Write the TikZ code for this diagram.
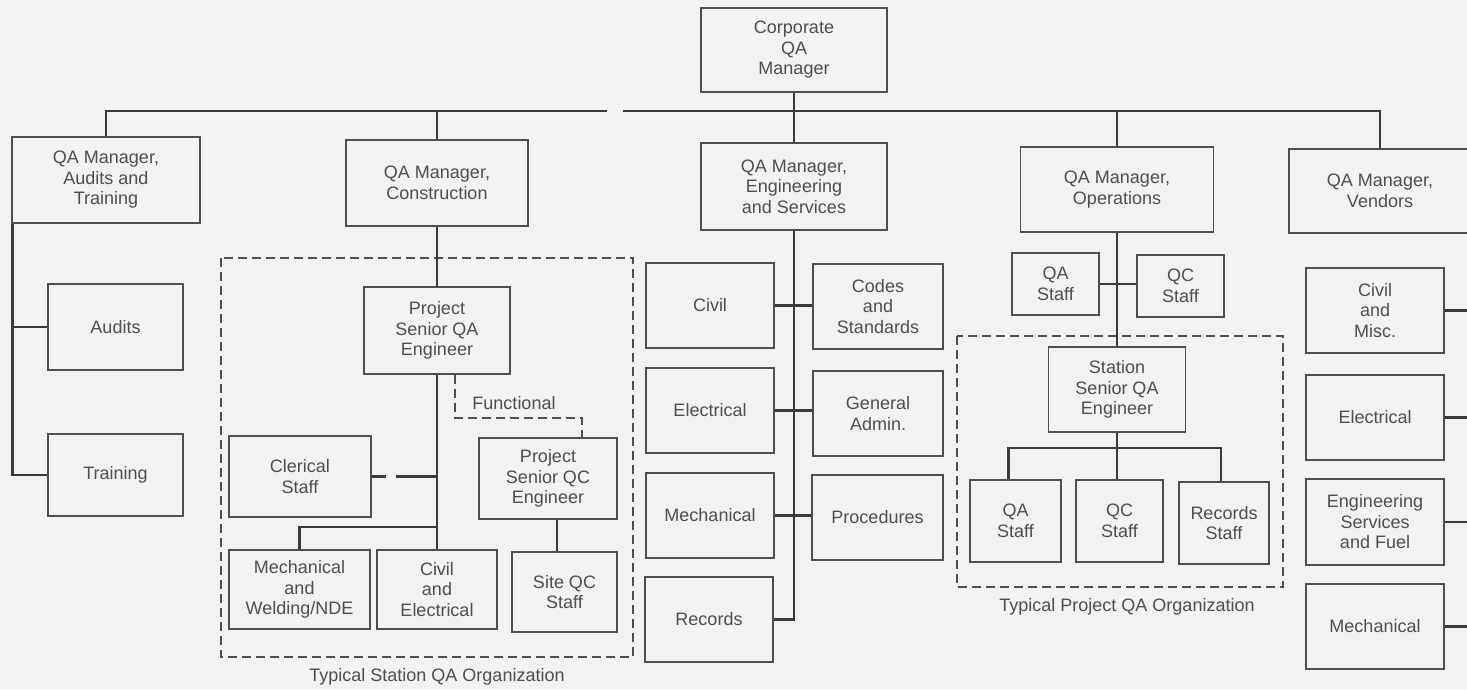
\documentclass[tikz,border=0pt]{standalone}
\usepackage{fontspec}
\setmainfont{Liberation Sans}
\definecolor{paper}{HTML}{F2F2F0}
\definecolor{ink}{HTML}{4E4E4E}
\definecolor{rule}{HTML}{3A3A3A}
\begin{document}
\begin{tikzpicture}[x=1pt,y=-1pt]
	\tikzstyle{Box} = [rectangle, draw=ink, line width=1.4pt, text=ink, align=center, inner sep=2pt, font=\fontsize{18}{20.5}\selectfont]
	\tikzstyle{Link} = [draw=rule, line width=2.6pt]
	\tikzstyle{Group} = [draw=ink, line width=1.3pt, dash pattern=on 9pt off 5pt]
	\tikzstyle{Caption} = [text=ink, font=\fontsize{18}{20.5}\selectfont]
	\useasboundingbox (0,0) rectangle (1467,689);
	\fill[paper] (0,0) rectangle (1467,689);
	\clip (0,0) rectangle (1467,689);

	% managers
	\node (corp) at (794,50) [Box, minimum width=186, minimum height=84] {Corporate\\QA\\Manager};
	\node (mAT) at (106,180) [Box, minimum width=188, minimum height=86] {QA Manager,\\Audits and\\Training};
	\node (mCon) at (437,183) [Box, minimum width=182, minimum height=86] {QA Manager,\\Construction};
	\node (mEng) at (794,186.5) [Box, minimum width=186, minimum height=87] {QA Manager,\\Engineering\\and Services};
	\node (mOps) at (1117,189.5) [Box, minimum width=193, minimum height=85] {QA Manager,\\Operations};
	\node (mVen) at (1380,191) [Box, minimum width=182, minimum height=84] {QA Manager,\\Vendors};
	\coordinate (gapL) at (607,111);
	\coordinate (gapR) at (623,111);
	\draw[Link] (mAT.north) |- (gapL);
	\draw[Link] (gapR) -| (mVen.north);
	\draw[Link] (mCon.north) -- (mCon.north |- gapL);
	\draw[Link] (mOps.north) -- (mOps.north |- gapR);
	\draw[Link] (corp) -- (mEng);

	% audits and training
	\node (audit) at (115.5,327) [Box, minimum width=135, minimum height=86] {Audits};
	\node (train) at (115.5,475) [Box, minimum width=135, minimum height=82] {Training};
	\draw[Link] ([xshift=1pt]mAT.south west) |- (audit.west);
	\draw[Link] ([xshift=1pt]mAT.south west) |- (train.west);

	% construction
	\draw[Group] (221,258) rectangle (633,657);
	\node (staCap) at (437,677) [Caption] {Typical Station QA Organization};
	\node (psqa) at (437,330.5) [Box, minimum width=146, minimum height=87] {Project\\Senior QA\\Engineer};
	\node (cler) at (300,476.5) [Box, minimum width=142, minimum height=81] {Clerical\\Staff};
	\node (psqc) at (548,478.5) [Box, minimum width=138, minimum height=81] {Project\\Senior QC\\Engineer};
	\node (mechW) at (299.5,589.5) [Box, minimum width=141, minimum height=79] {Mechanical\\and\\Welding/NDE};
	\node (civEl) at (437,589.5) [Box, minimum width=120, minimum height=79] {Civil\\and\\Electrical};
	\node (siteQC) at (564.5,592) [Box, minimum width=105, minimum height=80] {Site QC\\Staff};
	\node (fnLab) at (514,403) [Caption] {Functional};
	\coordinate (staB) at (437,527);
	\coordinate (fnc) at (582,418);
	\draw[Link] (mCon) -- (psqa);
	\draw[Link] (psqa) -- (civEl);
	\draw[Link] (mechW.north) |- (staB);
	\draw[Link, dash pattern=on 14pt off 10pt on 60pt off 0pt] (cler.east) -- (cler.east -| psqa.south);
	\draw[Link] ([xshift=9pt]psqc.south) -- ([xshift=9pt]psqc.south |- siteQC.north);
	\draw[Group] ([xshift=18pt]psqa.south) |- (fnc) -- (fnc |- psqc.north);

	% engineering and services
	\node (civ) at (710,305.5) [Box, minimum width=128, minimum height=85] {Civil};
	\node (codes) at (878,306.5) [Box, minimum width=130, minimum height=85] {Codes\\and\\Standards};
	\node (elec) at (710,410.5) [Box, minimum width=128, minimum height=85] {Electrical};
	\node (admin) at (878,413.5) [Box, minimum width=130, minimum height=85] {General\\Admin.};
	\node (mech) at (710,515.5) [Box, minimum width=128, minimum height=85] {Mechanical};
	\node (proc) at (877.5,517.5) [Box, minimum width=131, minimum height=85] {Procedures};
	\node (rec) at (709,619.5) [Box, minimum width=128, minimum height=85] {Records};
	\draw[Link] (mEng.south) |- (rec.east);
	\draw[Link] (civ.east) -- (civ.east -| codes.west);
	\draw[Link] (elec.east) -- (elec.east -| admin.west);
	\draw[Link] (mech.east) -- (mech.east -| proc.west);

	% operations
	\node (oQA) at (1055.5,284) [Box, minimum width=87, minimum height=62] {QA\\Staff};
	\node (oQC) at (1180.5,286) [Box, minimum width=87, minimum height=62] {QC\\Staff};
	\draw[Group] (957,336) rectangle (1283,587);
	\node (prjCap) at (1127,607) [Caption] {Typical Project QA Organization};
	\node (ssqa) at (1117,389.5) [Box, minimum width=137, minimum height=85] {Station\\Senior QA\\Engineer};
	\node (pQA) at (1015.5,521) [Box, minimum width=91, minimum height=82] {QA\\Staff};
	\node (pQC) at (1119.5,521) [Box, minimum width=87, minimum height=82] {QC\\Staff};
	\node (pRec) at (1224,523) [Box, minimum width=90, minimum height=82] {Records\\Staff};
	\coordinate (prjB) at (1117,448);
	\draw[Link] (mOps) -- (ssqa);
	\draw[Link] (oQA.east) -- (oQA.east -| oQC.west);
	\draw[Link] (ssqa) -- (prjB);
	\draw[Link] ([xshift=-7pt]pQA.north) |- (prjB) -| ([xshift=-3pt]pRec.north);
	\draw[Link] (prjB) -- (prjB |- pQC.north);

	% vendors
	\node (vCiv) at (1375,310.5) [Box, minimum width=138, minimum height=85] {Civil\\and\\Misc.};
	\node (vEl) at (1375,417.5) [Box, minimum width=138, minimum height=85] {Electrical};
	\node (vEng) at (1375,522) [Box, minimum width=138, minimum height=86] {Engineering\\Services\\and Fuel};
	\node (vMech) at (1375,626.5) [Box, minimum width=138, minimum height=85] {Mechanical};
	\coordinate (venR) at (1490,0);
	\draw[Link] (vCiv.east) -- (vCiv.east -| venR);
	\draw[Link] (vEl.east) -- (vEl.east -| venR);
	\draw[Link] (vEng.east) -- (vEng.east -| venR);
	\draw[Link] (vMech.east) -- (vMech.east -| venR);
\end{tikzpicture}
\end{document}
